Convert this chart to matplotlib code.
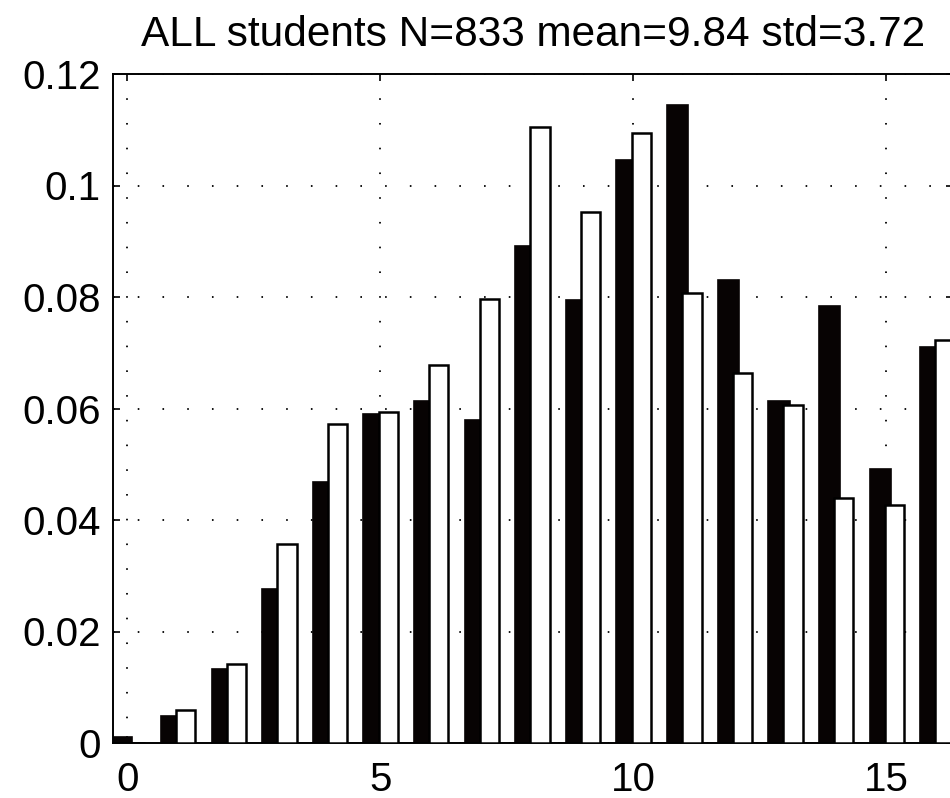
import matplotlib
import matplotlib.pyplot as plt
import numpy as np

plt.switch_backend('agg')

# Histogram data (relative frequency per score)
scores = list(range(17))
black_vals = [0.0011, 0.0049, 0.0132, 0.0277, 0.0469, 0.0590, 0.0614, 0.0579, 0.0891,
              0.0794, 0.1046, 0.1144, 0.0831, 0.0613, 0.0783, 0.0492, 0.0711]
white_vals = [0.0, 0.0059, 0.0141, 0.0357, 0.0572, 0.0594, 0.0678, 0.0797, 0.1105,
              0.0952, 0.1095, 0.0807, 0.0664, 0.0606, 0.0439, 0.0427, 0.0723]
x_ticks = [0, 5, 10, 15]
y_ticks = [0, 0.02, 0.04, 0.06, 0.08, 0.1, 0.12]
y_labels = ['0', '0.02', '0.04', '0.06', '0.08', '0.1', '0.12']
title = 'ALL students N=833 mean=9.84 std=3.72'

plt.rcParams['font.family'] = ['Liberation Sans', 'DejaVu Sans']

fig = plt.figure(figsize=(9.5, 7.98), dpi=100)
ax = fig.add_axes([113 / 950, 55 / 798, 840 / 950, 669 / 798])

x = np.array(scores, dtype=float)
ax.bar(x - 0.12, black_vals, width=0.42, color='#070303', edgecolor='#070303',
       linewidth=1.2, zorder=2)
ax.bar(x + 0.16, white_vals, width=0.38, color='white', edgecolor='black',
       linewidth=1.8, zorder=3)

ax.set_xlim(-0.28, 16.32)
ax.set_ylim(0, 0.12)
ax.set_xticks(x_ticks)
ax.set_yticks(y_ticks)
ax.set_yticklabels(y_labels)

ax.set_axisbelow(True)
ax.grid(True, color='black', linestyle=(0, (0.9, 12.8)), linewidth=1.3)

ax.tick_params(direction='in', length=5, width=1.2, top=True, right=True,
               labelsize=29)
ax.tick_params(axis='x', pad=13)
ax.tick_params(axis='y', pad=9)
for sp in ax.spines.values():
    sp.set_linewidth(1.4)

ax.set_title(title, fontsize=30.5, pad=20)

fig.savefig('out.png', dpi=100)
